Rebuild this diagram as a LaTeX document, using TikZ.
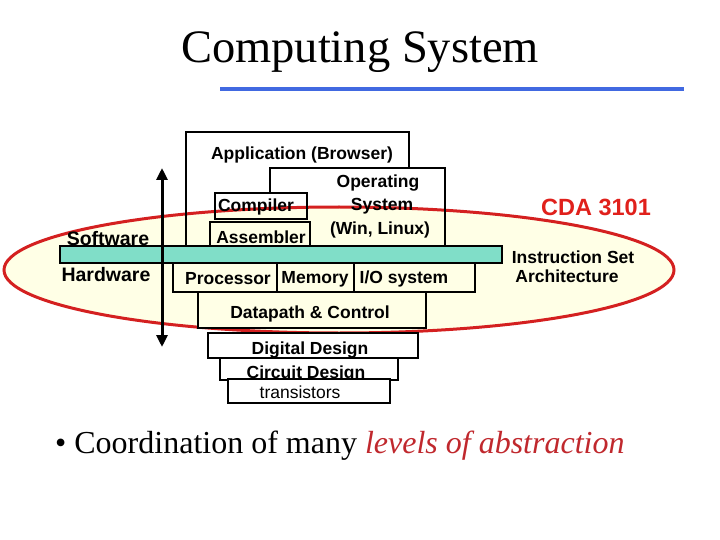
\documentclass[tikz,border=0pt]{standalone}
\usepackage{fontspec}
\setmainfont{Liberation Serif}
\newfontfamily\arial{Liberation Sans}
\usetikzlibrary{arrows.meta,shapes.geometric}
\definecolor{cream}{HTML}{FFFFE6}
\definecolor{ellred}{HTML}{D42020}
\definecolor{isateal}{HTML}{80DEC8}
\definecolor{lineblue}{HTML}{4169E1}
\definecolor{cdared}{HTML}{E0201B}
\definecolor{absred}{HTML}{C0282D}
\tikzset{
  lbl/.style={inner sep=0pt, font=\arial\bfseries\fontsize{17.5}{20}\selectfont},
  lblr/.style={inner sep=0pt, font=\arial\fontsize{17.5}{20}\selectfont},
  side/.style={inner sep=0pt, font=\arial\bfseries\fontsize{19.5}{22}\selectfont},
  boxln/.style={draw=black, line width=2.5pt},
}
\begin{document}
\begin{tikzpicture}[x=1pt,y=-1pt]
\useasboundingbox (0,0) rectangle (720,540);
% title
\node[inner sep=0pt, font=\fontsize{46.5}{50}\selectfont] (title) at (360,52) {Computing System};
\coordinate (bl) at (220,89);
\coordinate (br) at (684,89);
\draw[lineblue, line width=3.5pt] (bl) -- (br);
% ellipse
\node[draw=ellred, fill=cream, line width=3pt, ellipse, minimum width=670pt, minimum height=126pt, inner sep=0pt] (ell) at (339,270) {};
% application and OS boxes
\draw[boxln] (186,246) -- (186,132) -- (409,132) -- (409,168);
\draw[boxln] (270,193) -- (270,168) -- (445,168) -- (445,246);
\draw[boxln] (215,193) rectangle (307,219);
\draw[boxln] (210,246) -- (210,222) -- (310,222) -- (310,246);
\node[lbl] (app) at (302,155) {Application (Browser)};
\node[lbl] (comp) at (256,207) {Compiler};
\node[lbl] (asm) at (261,237) {Assembler};
\node[lbl] (os1) at (378,183) {Operating};
\node[lbl] (os2) at (382,206) {System};
\node[lbl] (os3) at (380,230) {(Win, Linux)};
% ISA bar
\draw[fill=isateal, draw=black, line width=1.5pt] (60,246) rectangle (502,263);
% lower boxes
\draw[boxln] (173,263) rectangle (475,292);
\draw[boxln] (277,263) -- (277,292);
\draw[boxln] (354,263) -- (354,292);
\node[lbl] (proc) at (228,279) {Processor};
\node[lbl] (mem) at (315,279) {Memory};
\node[lbl] (io) at (404,279) {I/O system};
\draw[boxln, fill=cream] (198,292) rectangle (426,328);
\node[lbl] (dp) at (310,314) {Datapath \& Control};
\draw[boxln, fill=white] (208,333) rectangle (418,358);
\node[lbl] (dd) at (310,350) {Digital Design};
\draw[boxln, fill=white] (220,358) rectangle (398,380);
\node[lbl] (cd) at (306,374) {Circuit Design};
\draw[boxln, fill=white] (228,379) rectangle (390,403);
\node[lblr] (tr) at (300,392) {transistors};
% arrow
\coordinate (atop) at (162,168);
\coordinate (abot) at (162,347);
\draw[line width=3pt, {Triangle[length=12pt,width=11pt]}-{Triangle[length=12pt,width=11pt]}] (atop) -- (abot);
% side labels
\node[side] (sw) at (108,239) {Software};
\node[side] (hw) at (106,275) {Hardware};
\node[inner sep=0pt, text=cdared, font=\arial\bfseries\fontsize{23.5}{26}\selectfont] (cda) at (596,207) {CDA 3101};
\node[lbl] (isa1) at (573,257) {Instruction Set};
\node[lbl] (isa2) at (567,276) {Architecture};
% bullet
\node[inner sep=0pt, anchor=west, font=\fontsize{32}{36}\selectfont] (bul) at (55,446) {\textbullet\ Coordination of many \textcolor{absred}{\itshape levels of abstraction}};
\end{tikzpicture}
\end{document}
